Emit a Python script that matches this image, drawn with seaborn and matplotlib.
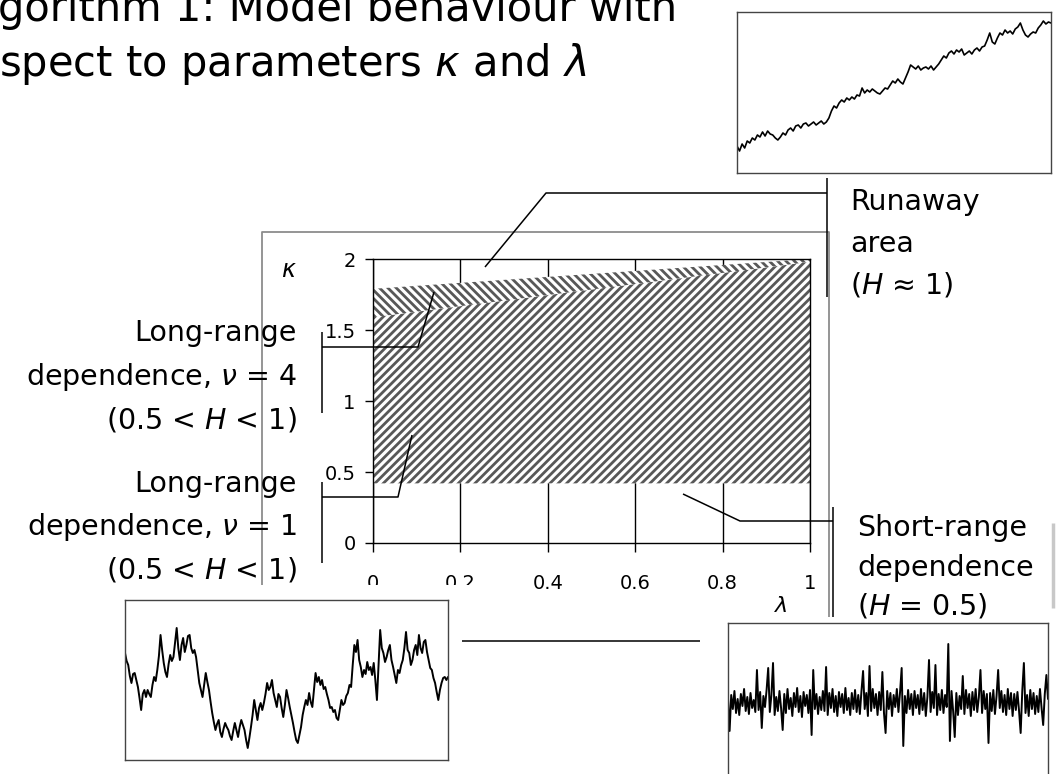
import matplotlib
matplotlib.use("Agg")
import matplotlib.pyplot as plt
from matplotlib.lines import Line2D
from matplotlib.patches import Rectangle
import seaborn as sns

# ---- parameter plane (lambda, kappa) ----
lam = [0.0, 1.0]
kappa_floor = [0.42, 0.42]      # lower edge of the long-range region
kappa_split = [1.59, 1.98]      # nu = 1 / nu = 4 boundary
kappa_ceiling = [1.79, 2.0]     # start of the runaway area
x_ticks = [0, 0.2, 0.4, 0.6, 0.8, 1]
x_tick_labels = ["0", "0.2", "0.4", "0.6", "0.8", "1"]
y_ticks = [0, 0.5, 1, 1.5, 2]
y_tick_labels = ["0", "0.5", "1", "1.5", "2"]

# ---- sample paths (level in pixels inside each small panel) ----
runaway_path = [27, 22, 29, 25, 32, 30, 35, 33, 38, 36, 41, 37, 42, 39, 38, 35, 33, 36, 40, 38,
                43, 45, 42, 47, 48, 45, 49, 50, 47, 49, 51, 48, 50, 52, 49, 51, 55, 62, 67, 65,
                70, 73, 71, 75, 73, 76, 74, 78, 77, 85, 80, 83, 81, 84, 82, 80, 79, 82, 85, 84,
                88, 92, 90, 94, 91, 89, 95, 101, 108, 106, 104, 107, 103, 105, 106, 104, 107, 103, 106, 109,
                113, 117, 115, 120, 122, 119, 123, 121, 124, 118, 120, 122, 119, 123, 125, 122, 126, 127, 133, 140,
                131, 129, 135, 140, 138, 143, 140, 142, 139, 144, 146, 150, 143, 138, 136, 139, 141, 140, 145, 148,
                152, 149, 151, 150]

long_range_path = [107, 99, 95, 84, 77, 86, 87, 80, 73, 62, 50, 66, 70, 63, 70, 66, 63, 75, 83, 79,
                   90, 104, 125, 110, 97, 88, 83, 96, 105, 99, 103, 118, 132, 112, 100, 115, 122, 108, 115, 124,
                   125, 112, 107, 110, 103, 90, 77, 70, 63, 75, 87, 78, 70, 58, 47, 38, 30, 36, 40, 28,
                   23, 31, 37, 33, 30, 24, 20, 29, 37, 30, 23, 33, 40, 35, 30, 20, 12, 22, 33, 45,
                   60, 50, 40, 52, 57, 50, 57, 66, 77, 70, 73, 80, 67, 60, 53, 66, 63, 52, 43, 55,
                   70, 62, 53, 45, 37, 28, 20, 17, 25, 33, 45, 53, 60, 55, 67, 58, 53, 70, 87, 78,
                   83, 75, 80, 71, 73, 66, 60, 52, 53, 48, 50, 42, 40, 50, 60, 55, 57, 64, 67, 75,
                   73, 95, 115, 108, 120, 100, 93, 83, 90, 86, 98, 90, 93, 85, 97, 80, 60, 95, 130, 112,
                   107, 98, 103, 110, 115, 100, 93, 85, 77, 90, 87, 95, 100, 112, 128, 110, 107, 95, 100, 110,
                   115, 105, 125, 112, 107, 118, 120, 108, 100, 92, 90, 82, 77, 68, 60, 70, 77, 82, 83, 80, 83]

short_range_path = [5, -28, 8, -6, 12, -10, 4, -12, 9, -3, 14, -8, 6, -11, 10, -5, 3, -9, 33, -7,
                    11, -25, 7, -4, 13, 35, -9, 8, 40, -12, 6, -8, 12, -5, -27, 9, -10, 14, -6, 5,
                    -13, 10, -4, 15, -9, 7, -14, 11, -3, 8, -10, 13, -32, 33, -6, 9, -11, 6, -7, 12,
                    -8, 36, -12, 10, -5, 14, -9, 7, -13, 11, -4, 9, -10, 15, -7, 5, -12, 10, -6, 13,
                    -9, 8, -11, 12, 32, -6, 10, -13, 37, -8, 14, -5, 9, -12, 11, -7, 31, -10, -30, 12,
                    -6, 10, -13, 8, -4, 14, -9, 11, 35, -43, 7, -10, 13, -6, 9, -12, 12, -5, 8, -11,
                    14, -7, 10, -13, 6, 43, -9, 11, -5, 38, -12, 9, -7, 13, -10, 8, -4, 59, -38, 12,
                    -8, -34, 10, -12, 7, -6, 27, -11, 13, -5, 9, -13, 11, -7, 14, -9, 6, 33, -10, 12,
                    -6, 9, -40, 10, -8, 13, -11, 7, 33, -5, 12, -9, 8, -12, 14, -6, 10, -13, 9, -7,
                    11, -8, -30, 12, 40, -10, 8, -13, 13, -6, 10, -11, 7, -9, 14, -5, -22, 9, 28, 4]

sns.set_style("white")
plt.rcParams["font.family"] = ["DejaVu Sans"]
plt.rcParams["mathtext.fontset"] = "dejavusans"
plt.rcParams["hatch.linewidth"] = 2.0
plt.rcParams["text.color"] = "black"
plt.rcParams["xtick.color"] = "black"
plt.rcParams["ytick.color"] = "black"
plt.rcParams["xtick.labelcolor"] = "black"
plt.rcParams["ytick.labelcolor"] = "black"

W, H = 1056, 774


def fx(x):
    return x / W


def fy(y):
    return 1 - y / H


def box(x0, y0, x1, y1):
    return [fx(x0), fy(y1), (x1 - x0) / W, (y1 - y0) / H]


def pline(xs, ys, color="black", lw=1.1, zorder=2):
    fig.add_artist(Line2D([fx(v) for v in xs], [fy(v) for v in ys],
                          color=color, lw=lw, zorder=zorder,
                          transform=fig.transFigure, solid_capstyle="butt"))


fig = plt.figure(figsize=(10.56, 7.74), dpi=100)

# ---- title ----
fig.text(fx(-2), fy(21), "gorithm 1: Model behaviour with", fontsize=30,
         ha="left", va="baseline")
fig.text(fx(-1), fy(76), "spect to parameters $\\kappa$ and $\\lambda$", fontsize=30,
         ha="left", va="baseline")

# ---- grey frame around the parameter plane ----
pline([262, 262, 829, 829], [588, 232, 232, 617], color="#8c8c8c", lw=1.3, zorder=1)

# ---- parameter plane ----
ax = fig.add_axes(box(373, 259, 810, 543))
ax.set_xlim(0, 1)
ax.set_ylim(0, 2)
ax.set_xticks(x_ticks, x_tick_labels)
ax.set_yticks(y_ticks, y_tick_labels)
ax.set_axisbelow(True)
ax.grid(axis="x", color="black", lw=1.0)
ax.grid(axis="y", visible=False)
ax.fill_between(lam, kappa_floor, kappa_split, facecolor="white", edgecolor="#585858",
                hatch="////", linewidth=0, zorder=2)
ax.fill_between(lam, kappa_split, kappa_ceiling, facecolor="white", edgecolor="#585858",
                hatch="\\\\\\\\", linewidth=0, zorder=2)
ax.tick_params(axis="x", bottom=True, direction="out", length=6.5, width=1.0,
               pad=16, labelsize=14, color="black")
ax.tick_params(axis="y", left=True, direction="out", length=5.5, width=1.0,
               pad=7, labelsize=14, color="black")
for s in ax.spines.values():
    s.set_color("black")
    s.set_linewidth(1.0)
    s.set_zorder(3)

fig.text(fx(289), fy(277), "$\\kappa$", fontsize=17, ha="center", va="baseline")
fig.text(fx(781), fy(612), "$\\lambda$", fontsize=16, ha="center", va="baseline")

# ---- white ground of the lower-left panel ----
fig.add_artist(Rectangle((fx(110), fy(774)), (495 - 110) / W, (774 - 585) / H,
                         transform=fig.transFigure, facecolor="white",
                         edgecolor="none", zorder=1.5))

# ---- leader lines ----
pline([485, 546, 827], [267, 193, 193])
pline([827, 827], [178, 297])
pline([322, 322], [332, 413])
pline([322, 418, 434], [347, 347, 292])
pline([322, 322], [482, 563])
pline([322, 398, 412], [497, 497, 435])
pline([683, 740, 833], [494, 521, 521])
pline([833, 833], [507, 617])
pline([462, 700], [641, 641])
pline([1053, 1053], [523, 608], color="#c8c8c8", lw=2.5)

# ---- region labels ----
fs = 20.5
for y, s in zip([341, 385, 429],
                ["Long-range", "dependence, $\\nu$ = 4", "(0.5 < $H$ < 1)"]):
    fig.text(fx(297), fy(y), s, fontsize=fs, ha="right", va="baseline", zorder=3)
for y, s in zip([492, 535, 578],
                ["Long-range", "dependence, $\\nu$ = 1", "(0.5 < $H$ < 1)"]):
    fig.text(fx(297), fy(y), s, fontsize=fs, ha="right", va="baseline", zorder=3)
for y, s in zip([210, 252, 293], ["Runaway", "area", "($H$ \u2248 1)"]):
    fig.text(fx(850), fy(y), s, fontsize=fs, ha="left", va="baseline", zorder=3)
for y, s in zip([536, 576, 615], ["Short-range", "dependence", "($H$ = 0.5)"]):
    fig.text(fx(857), fy(y), s, fontsize=fs, ha="left", va="baseline", zorder=3)


# ---- sample path panels ----
def path_panel(rect, values, ylim, lw):
    a = fig.add_axes(rect)
    a.set_zorder(2)
    a.set_facecolor("white")
    idx = list(range(len(values)))
    sns.lineplot(x=idx, y=values, ax=a, color="black", lw=lw, estimator=None)
    a.set_xlim(0, len(values) - 1)
    a.set_ylim(*ylim)
    a.set_xticks([])
    a.set_yticks([])
    a.set_xlabel("")
    a.set_ylabel("")
    for s in a.spines.values():
        s.set_color("#444444")
        s.set_linewidth(1.0)
    return a


path_panel(box(737, 12, 1051, 173), runaway_path, (0, 161), 1.2)
path_panel(box(125, 600, 448, 760), long_range_path, (0, 160), 1.4)
path_panel(box(728, 623, 1048, 783), short_range_path, (-80, 80), 1.4)

fig.savefig("out.png", dpi=100)
